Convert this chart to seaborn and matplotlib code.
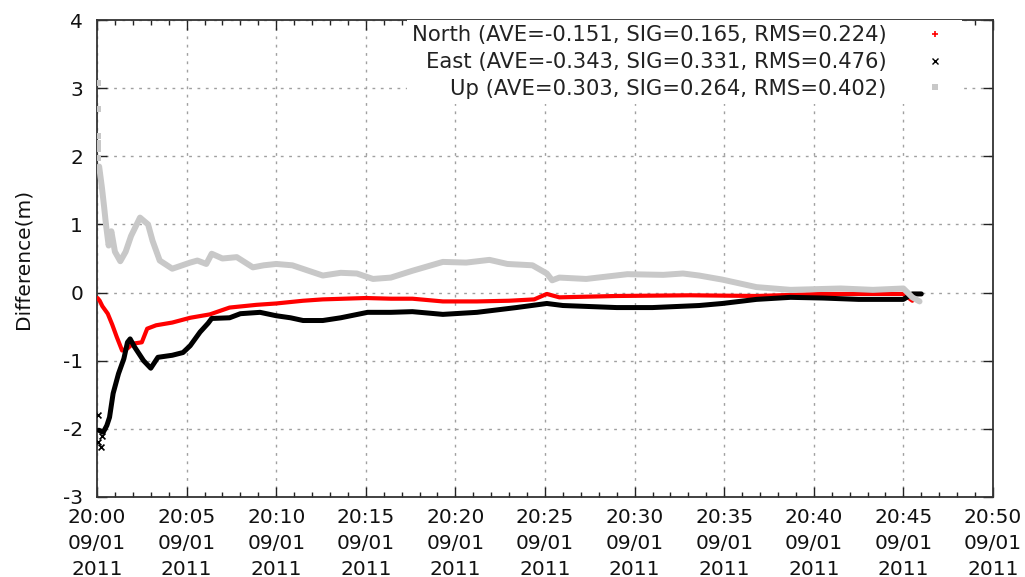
import matplotlib
matplotlib.use("Agg")
import numpy as np
import pandas as pd
import matplotlib.pyplot as plt
import seaborn as sns
from matplotlib.lines import Line2D
from matplotlib.ticker import MultipleLocator

# ---------------- data (minutes after 20:00, difference in m) ----------------
north_t = [0.03, 0.15, 0.3, 0.6, 0.85, 1.1, 1.4, 1.7, 2.0, 2.5, 2.8, 3.3, 4.2, 5.2, 6.3, 7.4,
           8.9, 10.0, 11.5, 12.6, 15.0, 16.4, 17.6, 19.3, 21.2, 23.0, 24.4, 25.1, 25.8, 29.0,
           33.1, 36.8, 40.5, 45.0, 45.5]
north_v = [-0.08, -0.12, -0.2, -0.31, -0.47, -0.65, -0.85, -0.82, -0.75, -0.73, -0.53, -0.48,
           -0.44, -0.37, -0.32, -0.22, -0.18, -0.16, -0.12, -0.1, -0.08, -0.09, -0.09, -0.13,
           -0.13, -0.12, -0.1, -0.02, -0.07, -0.05, -0.04, -0.05, -0.02, -0.02, -0.12]

east_sparse_t = [0.03, 0.06, 0.2, 0.3]
east_sparse_v = [-1.8, -2.2, -2.27, -2.1]
east_t = [0.1, 0.35, 0.55, 0.7, 0.9, 1.2, 1.5, 1.7, 1.85, 2.1, 2.6, 3.0, 3.4, 4.2, 4.8, 5.2,
          5.75, 6.2, 6.4, 7.4, 8.0, 9.1, 10.0, 10.8, 11.5, 12.6, 13.6, 15.1, 16.4, 17.6, 19.3,
          21.2, 23.4, 25.1, 26.0, 29.0, 31.0, 33.6, 34.9, 36.8, 38.7, 40.5, 42.5, 45.0, 45.5, 46.0]
east_v = [-2.02, -2.05, -1.95, -1.83, -1.48, -1.19, -0.97, -0.73, -0.68, -0.8, -1.0, -1.11,
          -0.95, -0.92, -0.88, -0.78, -0.58, -0.45, -0.38, -0.37, -0.31, -0.29, -0.34, -0.37,
          -0.41, -0.41, -0.37, -0.29, -0.29, -0.28, -0.32, -0.29, -0.22, -0.16, -0.19, -0.22,
          -0.22, -0.19, -0.16, -0.1, -0.07, -0.08, -0.1, -0.1, -0.02, -0.02]

up_sparse_t = [0.03, 0.05, 0.05, 0.06, 0.07, 0.08]
up_sparse_v = [3.07, 2.7, 2.3, 2.2, 2.1, 1.98]
up_t = [0.12, 0.28, 0.4, 0.5, 0.65, 0.8, 1.0, 1.3, 1.6, 1.9, 2.4, 2.85, 3.1, 3.5, 4.2, 5.2,
        5.6, 6.1, 6.4, 7.0, 7.8, 8.7, 9.3, 10.0, 10.9, 12.6, 13.6, 14.5, 15.4, 16.4, 17.6,
        19.3, 20.6, 21.9, 22.9, 24.3, 25.1, 25.4, 25.8, 27.3, 29.6, 31.6, 32.7, 33.6, 34.9,
        36.8, 38.7, 41.5, 43.3, 45.0, 45.5, 45.9]
up_v = [1.85, 1.53, 1.25, 1.0, 0.69, 0.9, 0.6, 0.46, 0.6, 0.83, 1.1, 1.0, 0.76, 0.47, 0.35,
        0.44, 0.47, 0.42, 0.57, 0.5, 0.52, 0.37, 0.4, 0.42, 0.4, 0.25, 0.29, 0.28, 0.2, 0.22,
        0.32, 0.45, 0.44, 0.48, 0.42, 0.40, 0.28, 0.18, 0.22, 0.2, 0.27, 0.26, 0.28, 0.25,
        0.19, 0.08, 0.04, 0.06, 0.04, 0.06, -0.07, -0.13]

legend_labels = ["North (AVE=-0.151, SIG=0.165, RMS=0.224)",
                 "East (AVE=-0.343, SIG=0.331, RMS=0.476)",
                 "Up (AVE=0.303, SIG=0.264, RMS=0.402)"]

x_ticks = [0, 5, 10, 15, 20, 25, 30, 35, 40, 45, 50]
x_tick_labels = ["20:00\n09/01\n2011", "20:05\n09/01\n2011", "20:10\n09/01\n2011",
                 "20:15\n09/01\n2011", "20:20\n09/01\n2011", "20:25\n09/01\n2011",
                 "20:30\n09/01\n2011", "20:35\n09/01\n2011", "20:40\n09/01\n2011",
                 "20:45\n09/01\n2011", "20:50\n09/01\n2011"]
y_ticks = [-3, -2, -1, 0, 1, 2, 3, 4]
y_tick_labels = ["-3", "-2", "-1", "0", "1", "2", "3", "4"]

# ---------------- style ----------------
sns.set_theme(style="white")
plt.rcParams['font.family'] = ['DejaVu Sans']
plt.rcParams['axes.unicode_minus'] = False
FS = 14.5

fig = plt.figure(figsize=(10.25, 5.77), dpi=100)
ax = fig.add_axes([97 / 1025, 80 / 577, 896 / 1025, 477 / 577])

c_n, c_e, c_u = "#ff0000", "#000000", "#c8c8c8"

df_n = pd.DataFrame({"t": north_t, "v": north_v})
df_e = pd.DataFrame({"t": east_t, "v": east_v})
df_u = pd.DataFrame({"t": up_t, "v": up_v})

sns.lineplot(data=df_n, x="t", y="v", ax=ax, color=c_n, lw=3.0, sort=False,
             estimator=None, zorder=3)
sns.lineplot(data=df_e, x="t", y="v", ax=ax, color=c_e, lw=3.6, sort=False,
             estimator=None, zorder=4)
sns.scatterplot(x=east_sparse_t, y=east_sparse_v, ax=ax, color=c_e, marker="x", s=18,
                linewidth=1.2, zorder=4)
sns.lineplot(data=df_u, x="t", y="v", ax=ax, color=c_u, lw=4.3, sort=False,
             estimator=None, zorder=5)
sns.scatterplot(x=up_sparse_t, y=up_sparse_v, ax=ax, color=c_u, marker="s", s=14,
                linewidth=0, zorder=5)

ax.set_xlim(0, 50)
ax.set_ylim(-3, 4)
ax.set_xticks(x_ticks)
ax.set_xticklabels(x_tick_labels, fontsize=FS, color="#111111", linespacing=1.45)
ax.set_yticks(y_ticks)
ax.set_yticklabels(y_tick_labels, fontsize=FS, color="#111111")
ax.xaxis.set_minor_locator(MultipleLocator(1))
ax.tick_params(which="major", direction="in", length=7, width=1, top=True, right=True,
               bottom=True, left=True, color="#222222")
ax.tick_params(axis="x", which="major", pad=8)
ax.tick_params(axis="y", which="major", pad=10)
ax.tick_params(axis="x", which="minor", direction="in", length=3.5, width=1, top=True,
               bottom=True, color="#222222")
ax.set_xlabel("")
ax.set_ylabel("Difference(m)", fontsize=FS, labelpad=22, color="#111111")

ax.grid(True, which="major", color="#a0a0a0", linestyle=(0, (2, 4)), linewidth=1)
ax.set_axisbelow(True)
for sp in ax.spines.values():
    sp.set_color("#333333")
    sp.set_linewidth(1.3)

handles = [Line2D([], [], color=c_n, marker="+", ms=5, mew=1.2, ls="none"),
           Line2D([], [], color=c_e, marker="x", ms=4, mew=1.0, ls="none"),
           Line2D([], [], color=c_u, marker="s", ms=4, mew=0, ls="none")]
leg = ax.legend(handles, legend_labels, loc="upper right", bbox_to_anchor=(0.965, 1.0),
                markerfirst=False, frameon=True, facecolor="white", edgecolor="none",
                framealpha=1, fontsize=15.2, handlelength=2.0, handletextpad=1.3,
                labelspacing=0.32, borderpad=0.25, borderaxespad=0.0, fancybox=False)
for t in leg.get_texts():
    t.set_color("#222222")

fig.savefig("out.png", dpi=100)
